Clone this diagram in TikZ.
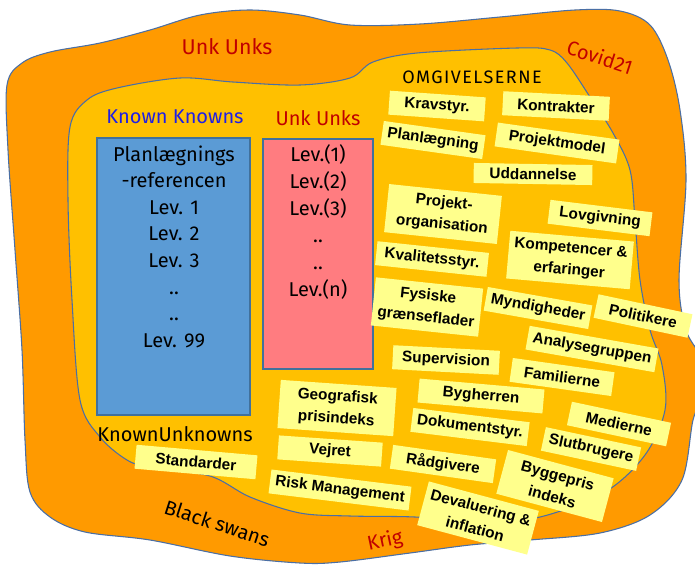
\documentclass[tikz,border=0pt]{standalone}
\usepackage{fontspec}
\setmainfont{Liberation Sans}
\newfontfamily\handfont{Fira Sans}
\newfontfamily\handspfont{Fira Sans}[LetterSpace=8]
\definecolor{outerorange}{HTML}{FF9A00}
\definecolor{inneryellow}{HTML}{FFC000}
\definecolor{blobline}{HTML}{4A6FA5}
\definecolor{sticky}{HTML}{FFFF8C}
\definecolor{kkblue}{HTML}{5B9BD5}
\definecolor{kkborder}{HTML}{41719C}
\definecolor{uupink}{HTML}{FF7C80}
\definecolor{titlered}{HTML}{C00000}
\definecolor{titleblue}{HTML}{1F1FE6}
\begin{document}
\begin{tikzpicture}[x=0.75pt,y=-0.75pt,
  lbl/.style={fill=sticky, font=\bfseries\fontsize{11.5}{16.5}\selectfont, align=center,
    inner xsep=4pt, inner ysep=3pt, minimum height=18pt, text=black},
  twoline/.style={inner ysep=4.5pt},
  hand/.style={font=\handfont\fontsize{15}{18}\selectfont},
  bigtitle/.style={font=\handfont\fontsize{16}{18}\selectfont},
  boxline/.style={font=\handfont\fontsize{15}{18}\selectfont, anchor=base, text=black},
  blob/.style={draw=blobline, line width=0.8pt}]
\useasboundingbox (0,0) rectangle (695,565);
\fill[white] (0,0) rectangle (695,565);
% outer region
\path[blob, fill=outerorange] plot[smooth cycle, tension=0.55] coordinates {
  (7,85) (22,63) (50,52) (100,43) (150,30) (200,15) (250,10) (300,15) (350,25)
  (420,24) (500,17) (575,10) (620,11) (650,25) (668,60) (680,110) (686,180)
  (679,280) (686,330) (702,360) (703,395) (693,420) (682,480) (650,515) (600,533)
  (530,540) (470,545) (410,553) (340,562) (300,563) (230,556) (150,540) (85,532)
  (50,517) (30,492) (25,440) (22,350) (15,250) (8,150)};
% inner region
\path[blob, fill=inneryellow] plot[smooth cycle, tension=0.55] coordinates {
  (70,127) (87,100) (117,88) (180,78) (233,82) (300,85) (350,78) (373,62) (417,53)
  (517,48) (550,50) (567,63) (590,97) (613,133) (630,170) (635,220) (640,280)
  (650,330) (662,365) (665,410) (645,455) (605,492) (540,517) (480,522) (415,517)
  (350,516) (300,513) (250,497) (210,476) (150,467) (127,460) (100,437) (80,400)
  (72,300) (68,200)};
% boxes
\node[draw=kkborder, line width=0.8pt, fill=kkblue, minimum width=114.75pt, minimum height=207.75pt, inner sep=0pt] (kkbox) at (173.5,276.5) {};
\node[draw=kkborder, line width=0.8pt, fill=uupink, minimum width=82.5pt, minimum height=172.5pt, inner sep=0pt] (uubox) at (318,254) {};
\foreach \t [count=\i] in {Planlægnings,-referencen,Lev. 1,Lev. 2,Lev. 3,..,..,Lev. 99}
  \node[boxline] (kk\i) at (174,161+26.6*\i-26.6) {\t};
\foreach \t [count=\i] in {Lev.(1),Lev.(2),Lev.(3),..,..,Lev.(n)}
  \node[boxline] (uu\i) at (318,161+27*\i-27) {\t};
% titles
\node[bigtitle, text=titlered] (t1) at (227,47) {Unk Unks};
\node[hand, text=titlered, rotate=-18] (t2) at (600,57) {Covid21};
\node[font=\handspfont\fontsize{13.5}{16}\selectfont, text=black] (t3) at (472,77) {OMGIVELSERNE};
\node[hand, text=titleblue] (t4) at (175,117) {Known Knowns};
\node[hand, text=titlered] (t5) at (318,118) {Unk Unks};
\node[hand, text=black] (t6) at (175,434) {KnownUnknowns};
\node[hand, text=black, rotate=-18] (t7) at (217,523) {Black swans};
\node[hand, text=titlered, rotate=12] (t8) at (385,541) {Krig};
% sticky labels
\node[lbl, rotate=-4, minimum width=72pt] (a1) at (437,106) {Kravstyr.};
\node[lbl, rotate=-3, minimum width=80pt] (a2) at (556,106) {Kontrakter};
\node[lbl, rotate=-8, minimum width=74pt] (a3) at (433,140) {Planlægning};
\node[lbl, rotate=-8, minimum width=92pt] (a4) at (557,143) {Projektmodel};
\node[lbl, rotate=-1, minimum width=89pt, minimum height=15pt, inner ysep=1.5pt] (a5) at (533,174) {Uddannelse};
\node[lbl, twoline, rotate=-6, minimum width=85pt] (a6) at (443,214) {Projekt-\\organisation};
\node[lbl, rotate=-7, minimum width=77pt] (a7) at (600,218) {Lovgivning};
\node[lbl, rotate=-6, minimum width=84pt] (a8) at (432,259) {Kvalitetsstyr.};
\node[lbl, twoline, rotate=-5, minimum width=89pt] (a9) at (570,260) {Kompetencer \&\\erfaringer};
\node[lbl, twoline, rotate=-6, minimum width=78pt] (a10) at (427,307) {Fysiske\\grænseflader};
\node[lbl, rotate=-10, minimum width=77pt] (a11) at (538,308) {Myndigheder};
\node[lbl, rotate=-12, minimum width=72pt] (a12) at (643,316) {Politikere};
\node[lbl, rotate=-10] (a13) at (592,349) {Analysegruppen};
\node[lbl, rotate=-3, minimum width=80pt] (a14) at (446,360) {Supervision};
\node[lbl, rotate=-8, minimum width=77pt] (a15) at (562,377) {Familierne};
\node[lbl, twoline, rotate=-4, minimum width=87pt] (a16) at (337,408) {Geografisk\\prisindeks};
\node[lbl, rotate=-5, minimum width=94pt] (a17) at (481,396) {Bygherren};
\node[lbl, rotate=-7] (a18) at (470,427) {Dokumentstyr.};
\node[lbl, rotate=-12, minimum width=76pt] (a19) at (619,424) {Medierne};
\node[lbl, rotate=-12, minimum width=73pt] (a20) at (591,449) {Slutbrugere};
\node[lbl, rotate=-4, minimum width=78pt] (a21) at (330,451) {Vejret};
\node[lbl, rotate=-8, minimum width=78pt] (a22) at (443,464) {Rådgivere};
\node[lbl, twoline, rotate=-15, minimum width=82pt] (a23) at (555,486) {Byggepris\\indeks};
\node[lbl, rotate=-7] (a24) at (340,490) {Risk Management};
\node[lbl, twoline, rotate=-15, minimum width=84pt] (a25) at (478,518) {Devaluering \&\\inflation};
\node[lbl, rotate=-5, minimum width=91pt] (a26) at (196,462) {Standarder};
\end{tikzpicture}
\end{document}
